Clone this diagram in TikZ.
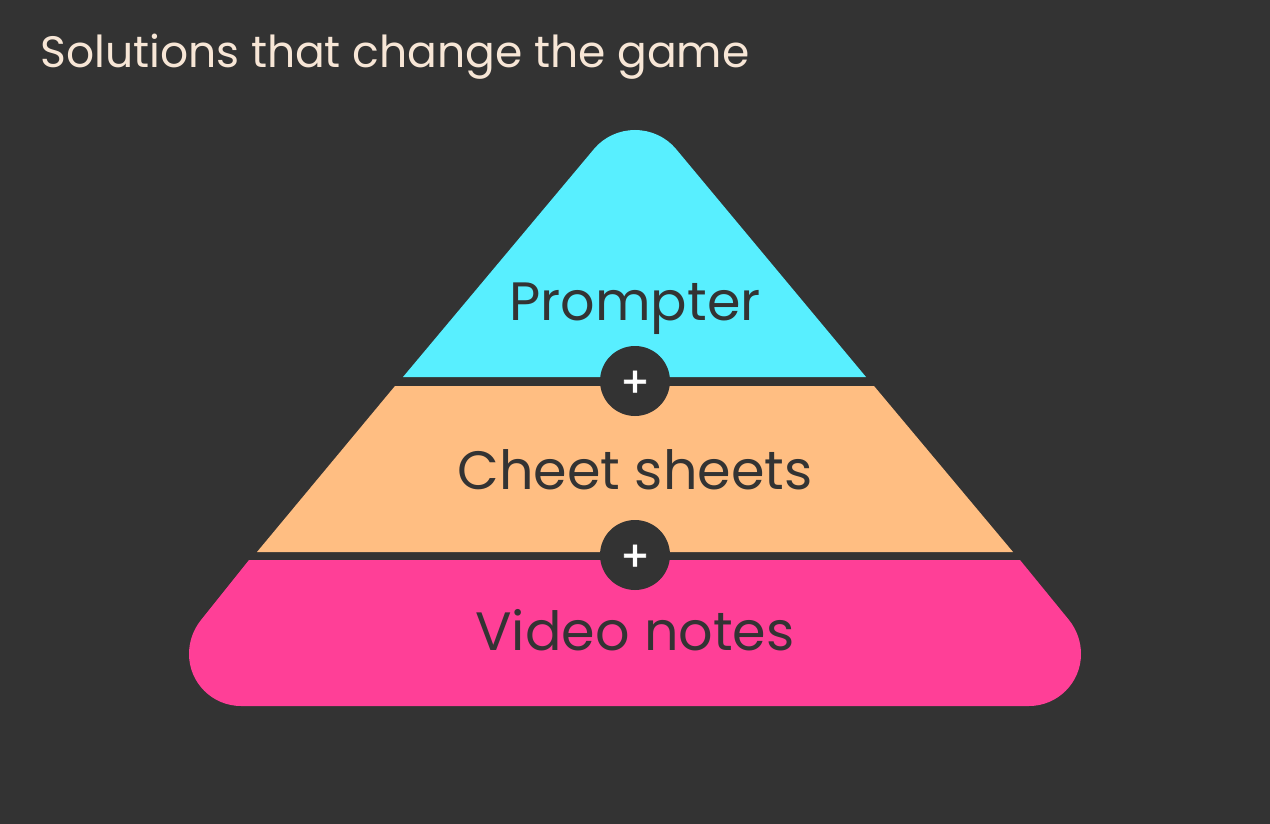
\documentclass[tikz,border=0pt]{standalone}
\usepackage{fontspec}
\setmainfont{Poppins}
\newfontfamily\plusfont[FakeBold=1.6]{Poppins}
\definecolor{bgc}{HTML}{333333}
\definecolor{cy}{HTML}{58EFFF}
\definecolor{orn}{HTML}{FFBE82}
\definecolor{pnk}{HTML}{FF3F97}
\definecolor{ttl}{HTML}{F7E6D6}
\begin{document}
\begin{tikzpicture}[x=1pt,y=-1pt,
 tier/.style={font=\fontsize{54}{60}\selectfont,text=bgc,inner sep=0pt,anchor=base},
 plusc/.style={circle,fill=bgc,minimum size=70pt,inner sep=0pt},
 plusg/.style={inner sep=0pt,text=white,font=\plusfont\fontsize{42}{42}\selectfont}]
\fill[bgc] (0,0) rectangle (1270,824);
\useasboundingbox (0,0) rectangle (1270,824);
\fill[cy] (403,377) -- (594,149) .. controls (604,136.9) and (619.3,130) .. (635,130) .. controls (650.7,130) and (666,136.9) .. (676,149) -- (866,377) -- cycle;
\fill[orn] (395,386) -- (874,386) -- (1013,552) -- (257,552) -- cycle;
\fill[pnk] (249,560) -- (1020,560) -- (1069,620) .. controls (1077,630) and (1081,642) .. (1081,654) .. controls (1081,682.7) and (1057.7,706) .. (1029,706) -- (241,706) .. controls (212.3,706) and (189,682.7) .. (189,654) .. controls (189,642) and (193,630) .. (201,620) -- cycle;
\node[anchor=base west,inner sep=0pt,text=ttl,font=\fontsize{44}{50}\selectfont] (title) at (40,68) {Solutions that change the game};
\node[tier] (p) at (635,320) {Prompter};
\node[tier] (c) at (635,489) {Cheet sheets};
\node[tier] (v) at (635,650) {Video notes};
\node[plusc] (a) at (635,381) {};
\node[plusc] (b) at (635,555) {};
\node[plusg] (ap) at (635,384) {+};
\node[plusg] (bp) at (635,558) {+};
\end{tikzpicture}
\end{document}
